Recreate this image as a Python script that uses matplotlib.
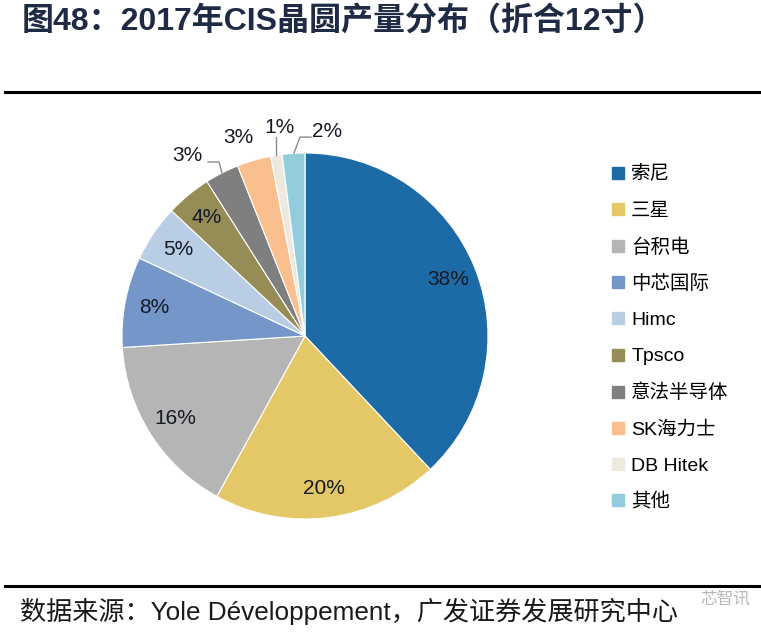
import matplotlib.pyplot as plt
import numpy as np

# CIS wafer share 2017 (12-inch equivalent)
companies = ["索尼", "三星", "台积电", "中芯国际", "Himc", "Tpsco",
             "意法半导体", "SK海力士", "DB Hitek", "其他"]
shares = [38, 20, 16, 8, 5, 4, 3, 3, 1, 2]
colors = ["#1C6AA6", "#E4C766", "#B5B5B5", "#7496C8", "#B9CDE5",
          "#968C55", "#7F7F7F", "#F9BF8F", "#EEE9DF", "#93CDDD"]

FONTS = ["Liberation Sans", "Noto Sans CJK SC", "DejaVu Sans"]
plt.rcParams['font.family'] = FONTS

W, H = 761, 633
fig = plt.figure(figsize=(W / 100, H / 100), dpi=100)

# title and rules
fig.text(22 / W, 1 - 21 / H, "图48：2017年CIS晶圆产量分布（折合12寸）",
         fontsize=23, fontweight='bold', color="#1F2A44", va='center', ha='left')
fig.add_artist(plt.Line2D([5 / W, 1], [1 - 92 / H] * 2, color='black', lw=2.2))
fig.add_artist(plt.Line2D([5 / W, 1], [1 - 586 / H] * 2, color='black', lw=2.2))
fig.text(20 / W, 1 - 611 / H, "数据来源：Yole Développement，广发证券发展研究中心",
         fontsize=18.8, color="#1a1a1a", va='center', ha='left')
# faint watermark in the bottom right corner
fig.text(700 / W, 1 - 599 / H, "芯智讯", fontsize=12, color="#8a8a8a",
         alpha=0.6, va='center', ha='left')

# pie
cx, cy, r = 305, 336, 183
ax = fig.add_axes([(cx - r) / W, (H - cy - r) / H, 2 * r / W, 2 * r / H])
wedges, texts, autotexts = ax.pie(shares, colors=colors, startangle=90,
                                  counterclock=False, radius=1,
                                  autopct='%d%%', pctdistance=0.84,
                                  textprops=dict(fontsize=15, color='#161a26'),
                                  wedgeprops=dict(edgecolor='white', linewidth=0.8))
ax.set_xlim(-1, 1)
ax.set_ylim(-1, 1)
ax.set_aspect('auto')
ax.axis('off')

# small slices get outside labels with leader lines
outside = {
    6: ((-0.645, 0.989), [(-0.530, 0.951), (-0.470, 0.951), (-0.454, 0.891)]),
    7: ((-0.366, 1.082), None),
    8: ((-0.142, 1.137), [(-0.158, 1.087), (-0.158, 0.989)]),
    9: ((0.120, 1.115), [(-0.060, 1.000), (-0.027, 1.087), (0.033, 1.087)]),
}
for i, (pos, line) in outside.items():
    autotexts[i].set_position(pos)
    autotexts[i].set_clip_on(False)
    if line:
        xs, ys = zip(*line)
        ax.plot(xs, ys, color='#8c8c8c', lw=1, clip_on=False)

# legend
handles = [plt.Line2D([], [], marker='s', ls='', markersize=8.5,
                      markerfacecolor=c, markeredgecolor=c) for c in colors]
fig.legend(handles, companies, loc='upper left',
           bbox_to_anchor=(604 / W, 1 - 158 / H), frameon=False,
           fontsize=14, labelspacing=0.95, handlelength=0.6,
           handletextpad=0.4, borderaxespad=0)

fig.savefig("out.png", dpi=100)
